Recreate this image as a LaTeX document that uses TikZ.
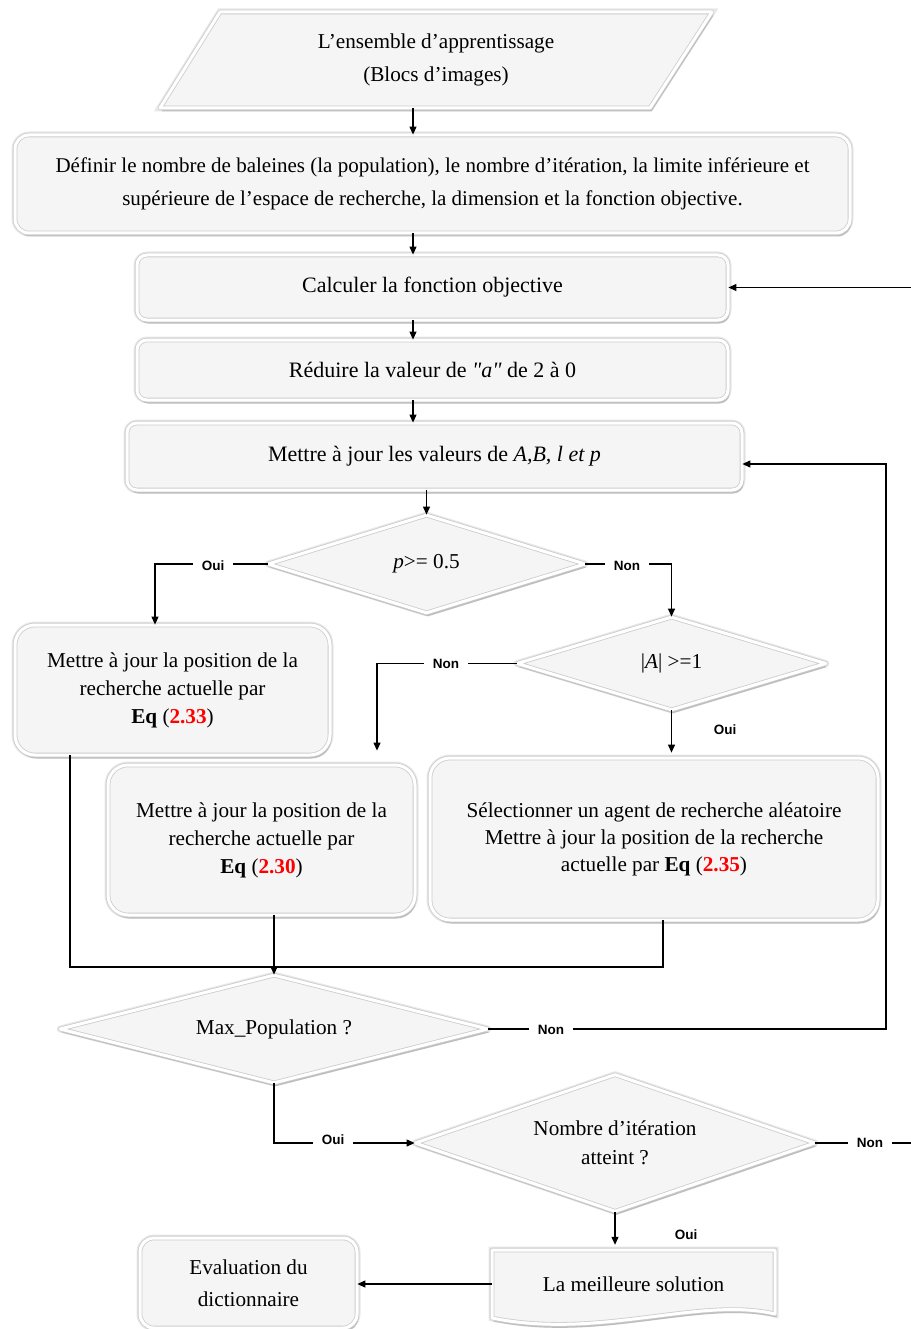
\documentclass[tikz,border=0pt]{standalone}
\usepackage{fontspec}
\setmainfont{Liberation Serif}
\newfontfamily\lblfont{Liberation Sans}
\newfontfamily\plainserif{Liberation Serif}
\usetikzlibrary{shapes.geometric,shadows,arrows.meta}
\begin{document}
\begin{tikzpicture}[x=1pt,y=-1pt,
  shade/.style={drop shadow={shadow xshift=1.5pt,shadow yshift=-3.5pt,opacity=0.5,fill=gray!85}},
  skin/.style={draw=gray!40, line width=0.8pt, double=white, double distance=3pt, fill=gray!8,
     line join=round, preaction={draw=gray!18, line width=7pt}, shade},
  box/.style={skin, rounded corners=14pt, align=center, inner sep=0pt},
  dia/.style={diamond, skin, align=center, inner sep=0pt},
  txt/.style={font=\fontsize{21.2}{28}\selectfont},
  ctxt/.style={font=\fontsize{22}{28}\selectfont},
  lbl/.style={fill=white, inner xsep=9pt, inner ysep=2pt, font=\lblfont\bfseries\fontsize{13.5}{15}\selectfont},
  arr/.style={-{Triangle[length=8pt,width=7pt]}, line width=1.1pt},
  ln/.style={line width=1.1pt}
]
\useasboundingbox (0,0) rectangle (910,1329);

% top parallelogram
\path[skin] (220,12) -- (712,12) -- (650,108) -- (160,108) -- cycle;
\node[align=center, minimum width=400pt, minimum height=96pt, inner sep=0pt,
      font=\fontsize{21.2}{33}\selectfont] (par) at (436,60)
  {L’ensemble d’apprentissage\\(Blocs d’images)};

\node[box, minimum width=835pt, minimum height=98pt, font=\fontsize{21}{33}\selectfont] (def) at (432.5,184)
  {Définir le nombre de baleines (la population), le nombre d’itération, la limite inférieure et\\
   supérieure de l’espace de recherche, la dimension et la fonction objective.};

\node[box, rounded corners=10pt, minimum width=591pt, minimum height=65pt, ctxt] (calc) at (432.5,287.5)
  {Calculer la fonction objective};
\node[box, rounded corners=10pt, minimum width=591pt, minimum height=60pt, ctxt] (red) at (432.5,370)
  {Réduire la valeur de {\plainserif\itshape "a"} de 2 à 0};
\node[box, rounded corners=10pt, minimum width=615pt, minimum height=67pt, ctxt] (maj) at (434.5,456.5)
  {Mettre à jour les valeurs de \textit{A,B, l et p}};

\node[dia, aspect=3.2, minimum width=317pt, minimum height=98pt, txt] (d1) at (426.5,564)
  {\textit{p}>= 0.5};
\node[box, rounded corners=20pt, minimum width=315pt, minimum height=130pt, txt] (b233) at (172.5,690)
  {Mettre à jour la position de la\\recherche actuelle par\\\textbf{Eq} (\textcolor{red}{\textbf{2.33}})};
\node[dia, aspect=3.3, minimum width=309pt, minimum height=93pt, txt] (d2) at (671.5,663.5)
  {|\textit{A}| >=1};
\node[box, rounded corners=20pt, minimum width=307pt, minimum height=150pt, txt] (b230) at (261.5,840)
  {Mettre à jour la position de la\\recherche actuelle par\\\textbf{Eq} (\textcolor{red}{\textbf{2.30}})};
\node[box, rounded corners=20pt, minimum width=448pt, minimum height=162pt, font=\fontsize{21.2}{27}\selectfont] (b235) at (654,839)
  {Sélectionner un agent de recherche aléatoire\\Mettre à jour la position de la recherche\\actuelle par \textbf{Eq} (\textcolor{red}{\textbf{2.35}})};

\node[dia, aspect=4, minimum width=428pt, minimum height=108pt, txt] (d3) at (274,1029)
  {Max\_Population ?};
\node[dia, aspect=2.9, minimum width=400pt, minimum height=137pt, font=\fontsize{21.2}{29}\selectfont] (d4) at (615,1143)
  {Nombre d’itération\\atteint ?};

% document shape
\path[skin] (492,1250) -- (775,1250) -- (775,1314)
   .. controls (700,1296) and (600,1340) .. (492,1318) -- cycle;
\node[minimum width=283pt, minimum height=68pt, inner sep=0pt, txt] (meil) at (633.5,1284)
  {La meilleure solution};
\node[box, minimum width=217pt, minimum height=90pt, font=\fontsize{21.2}{32}\selectfont] (eval) at (248.5,1283)
  {Evaluation du\\dictionnaire};

% helper coordinates
\coordinate (xa) at (413,0);
\coordinate (xo) at (155,0);
\coordinate (xn) at (377,0);
\coordinate (x70) at (70,0);
\coordinate (m1) at (70,967);
\coordinate (m2) at (663,967);
\coordinate (r1) at (886,464);
\coordinate (r2) at (918,287.5);

% connectors
\draw[arr] (xa |- par.south) -- (xa |- def.north);
\draw[arr] (xa |- def.south) -- (xa |- calc.north);
\draw[arr] (xa |- calc.south) -- (xa |- red.north);
\draw[arr] (xa |- red.south) -- (xa |- maj.north);
\draw[arr] (maj.south -| d1.north) -- (d1.north);

\draw[arr] (d1.west) -- (d1.west -| xo) -- (xo |- b233.north);
\draw[arr] (d1.east) -| (d2.north);
\draw[arr, shorten >=14pt] (d2.west) -| (xn |- b230.north);
\draw[arr, shorten >=5pt] (d2.south) -- (d2.south |- b235.north);

\draw[ln] (x70 |- b233.south) -- (m1) -- (m2) -- (m2 |- b235.south);
\draw[arr] (b230.south -| d3.north) -- (d3.north);

\draw[arr] (d3.east) -- (d3.east -| r1) -- (r1) -- (r1 -| maj.east);
\draw[arr] (d3.south) |- (d4.west);
\draw[arr] (d4.east) -- (d4.east -| r2) -- (r2) -- (calc.east);
\draw[arr, shorten >=5pt] (d4.south) -- (d4.south |- meil.north);
\draw[arr] (meil.west) -- (meil.west -| eval.east);

% labels
\node[lbl] (l1) at (213,566) {Oui};
\node[lbl] (l2) at (627,566) {Non};
\node[lbl] (l3) at (446,664) {Non};
\node[lbl] (l4) at (725,730) {Oui};
\node[lbl] (l5) at (551,1030) {Non};
\node[lbl] (l6) at (333,1140) {Oui};
\node[lbl] (l7) at (870,1143) {Non};
\node[lbl] (l8) at (686,1235) {Oui};
\end{tikzpicture}
\end{document}
